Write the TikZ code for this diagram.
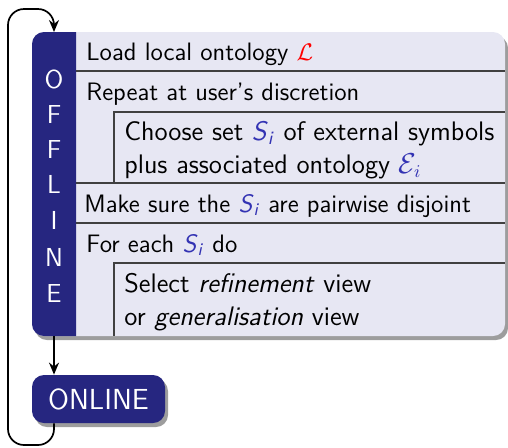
\documentclass[tikz,border=0pt]{standalone}
\usetikzlibrary{shadows,arrows.meta}
\renewcommand{\familydefault}{\sfdefault}
\definecolor{barblue}{RGB}{38,38,128}
\definecolor{symblue}{RGB}{51,51,179}
\definecolor{panelbg}{RGB}{231,231,243}
\newcommand{\Si}{\textcolor{symblue}{\textit{S}\textsubscript{\textit{i}}}}
\tikzstyle{txt}=[anchor=base west,inner sep=0pt,font=\fontsize{12.6}{15}\selectfont]
\tikzstyle{intxt}=[txt,font=\fontsize{13.4}{16}\selectfont]
\tikzstyle{ltr}=[anchor=base,inner sep=0pt,text=white,font=\fontsize{13}{15}\selectfont]
\tikzstyle{sep}=[draw=black!75,semithick]
\tikzstyle{shd}=[drop shadow={shadow xshift=1.5pt,shadow yshift=-2pt,fill=black!55,opacity=.7}]
\tikzstyle{flow}=[-{Stealth[length=6pt,width=5pt]},line width=0.85pt]

\begin{document}
\begin{tikzpicture}[x=0.5pt,y=-0.5pt]
\useasboundingbox (0,0) rectangle (508,447);
% panel and bar
\fill[panelbg,shd,rounded corners=6pt] (32,32) rectangle (505,336);
\fill[barblue] (76,32) [rounded corners=6pt] -- (32,32) -- (32,336) [sharp corners] -- (76,336) -- cycle;
\coordinate (offtop) at (54,32); \coordinate (offbot) at (54,336);
% rows
\draw[sep] (76,71) -- (505,71);
\draw[sep] (505,112) -- (114,112) -- (114,183);
\draw[sep] (76,183) -- (505,183);
\draw[sep] (76,223) -- (505,223);
\draw[sep] (505,263) -- (114,263) -- (114,336);
\node[txt] (load) at (86,60) {Load local ontology \textcolor{red}{$\mathcal{L}$}};
\node[txt] (repeat) at (86,100) {Repeat at user's discretion};
\node[intxt] (choose) at (124,140) {Choose set \Si{} of external symbols};
\node[intxt] (plus) at (124,173) {plus associated ontology \textcolor{symblue}{$\mathcal{E}_i$}};
\node[txt] (disjoint) at (84,212) {Make sure the \Si{} are pairwise disjoint};
\node[txt] (foreach) at (86,252) {For each \Si{} do};
\node[intxt] (select) at (124,292) {Select \textit{refinement} view};
\node[intxt] (orgen) at (124,325) {or \textit{generalisation} view};
% OFFLINE letters
\node[ltr] (o1) at (54,88) {O}; \node[ltr] (o2) at (54,123) {F}; \node[ltr] (o3) at (54,158) {F};
\node[ltr] (o4) at (54,193) {L}; \node[ltr] (o5) at (54,229) {I}; \node[ltr] (o6) at (54,266) {N};
\node[ltr] (o7) at (54,302) {E};
% ONLINE
\node[shd,fill=barblue,text=white,rounded corners=6pt,minimum width=66.5pt,minimum height=24pt,font=\fontsize{14.5}{17}\selectfont] (online) at (98.5,399) {ONLINE};
\draw[flow] (offbot) -- (offbot |- online.north);
\draw[flow,rounded corners=8pt] (offbot |- online.south) -- (54,445) -- (8,445) -- (8,9) -- (54,9) -- (offtop);
\end{tikzpicture}
\end{document}
